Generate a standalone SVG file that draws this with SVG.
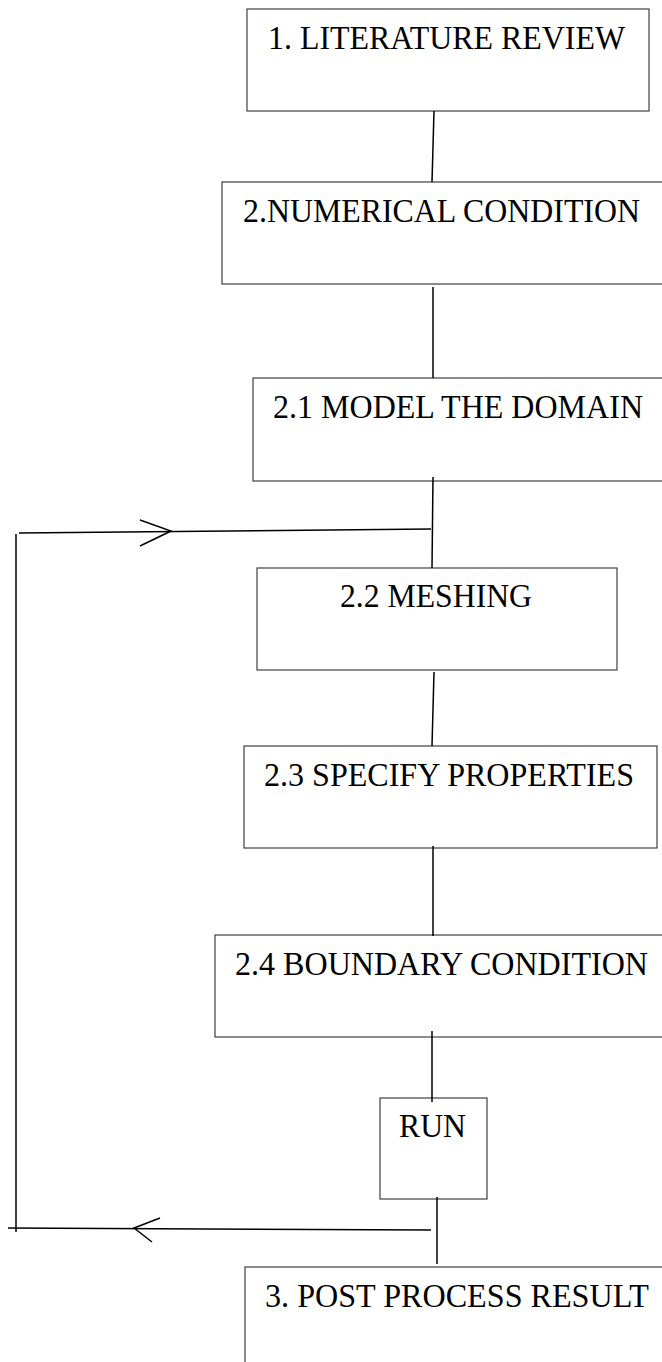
<svg xmlns="http://www.w3.org/2000/svg" width="662" height="1362" viewBox="0 0 662 1362">
<style>
.box{fill:#fff;stroke:#404040;stroke-width:1.2}
.lbl{font-family:"Liberation Serif","Times New Roman",serif;font-size:34px;fill:#000}
.con{stroke:#000;stroke-width:1.5;fill:none;stroke-linecap:butt}
</style>
<rect width="662" height="1362" fill="#fff"/>
<g id="n1"><rect class="box" x="247" y="9" width="402" height="102"/><text class="lbl" x="268" y="49" textLength="357" lengthAdjust="spacingAndGlyphs">1. LITERATURE REVIEW</text></g>
<g id="n2"><rect class="box" x="222" y="182" width="450" height="102"/><text class="lbl" x="243" y="222" textLength="397" lengthAdjust="spacingAndGlyphs">2.NUMERICAL CONDITION</text></g>
<g id="n21"><rect class="box" x="253" y="378" width="420" height="103"/><text class="lbl" x="273" y="418" textLength="370" lengthAdjust="spacingAndGlyphs">2.1 MODEL THE DOMAIN</text></g>
<g id="n22"><rect class="box" x="257" y="568" width="360" height="102"/><text class="lbl" x="340" y="607" textLength="192" lengthAdjust="spacingAndGlyphs">2.2 MESHING</text></g>
<g id="n23"><rect class="box" x="244" y="746" width="413" height="102"/><text class="lbl" x="264" y="786" textLength="370" lengthAdjust="spacingAndGlyphs">2.3 SPECIFY PROPERTIES</text></g>
<g id="n24"><rect class="box" x="215" y="935" width="460" height="102"/><text class="lbl" x="235" y="975" textLength="413" lengthAdjust="spacingAndGlyphs">2.4 BOUNDARY CONDITION</text></g>
<g id="nrun"><rect class="box" x="380" y="1098" width="107" height="101"/><text class="lbl" x="399" y="1137" textLength="67" lengthAdjust="spacingAndGlyphs">RUN</text></g>
<g id="n3"><rect class="box" x="245" y="1267" width="430" height="110"/><text class="lbl" x="265" y="1307" textLength="384" lengthAdjust="spacingAndGlyphs">3. POST PROCESS RESULT</text></g>
<g id="connectors">
<line class="con" x1="434" y1="111" x2="432" y2="182"/>
<line class="con" x1="433" y1="287" x2="433" y2="378"/>
<line class="con" x1="433" y1="477" x2="432" y2="568"/>
<line class="con" x1="434" y1="672" x2="432" y2="746"/>
<line class="con" x1="433" y1="846" x2="433" y2="936"/>
<line class="con" x1="432" y1="1031" x2="432" y2="1102"/>
<line class="con" x1="437" y1="1197" x2="437" y2="1264"/>
<polyline class="con" points="431,1230 8,1228"/>
<polyline class="con" points="16,1232 16,534"/>
<polyline class="con" points="19,533 431,529"/>
<polyline class="con" points="140,520 171,531 140,546"/>
<polyline class="con" points="160,1218 134,1228 152,1242"/>
</g>
</svg>
